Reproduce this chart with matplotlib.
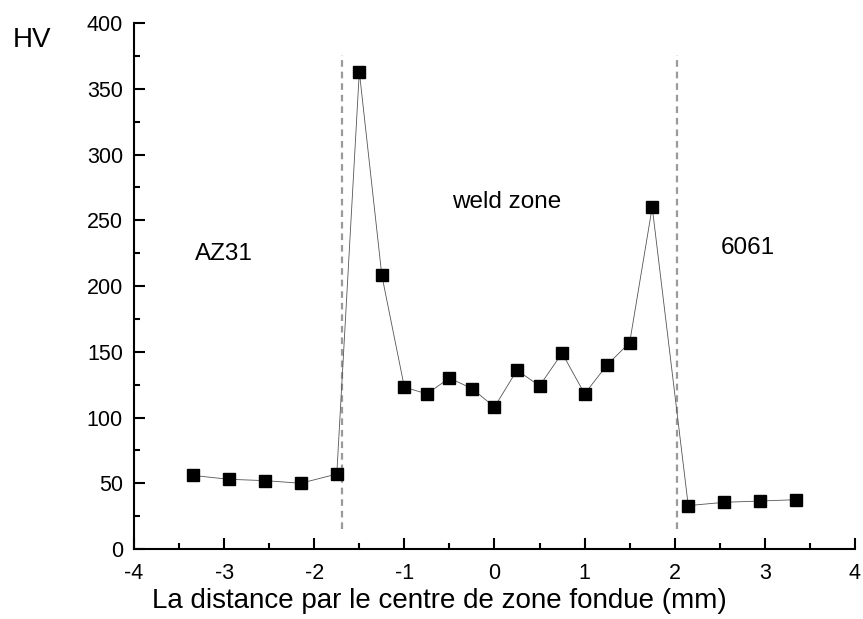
import matplotlib
matplotlib.use("Agg")
import matplotlib.pyplot as plt
from matplotlib.ticker import MultipleLocator

plt.rcParams['font.family'] = ['Liberation Sans', 'DejaVu Sans']

distance_mm = [-3.35, -2.95, -2.55, -2.15, -1.75,
               -1.5, -1.25, -1.0, -0.75, -0.5, -0.25, 0.0, 0.25, 0.5, 0.75,
               1.0, 1.25, 1.5, 1.75,
               2.15, 2.55, 2.95, 3.35]
hardness_hv = [56, 53, 52, 50, 57,
               363, 208, 123, 118, 130, 122, 108, 136, 124, 149,
               118, 140, 157, 260,
               33, 35.5, 36.5, 37.5]
boundaries_mm = [-1.69, 2.03]
boundary_span = (15, 376)
zone_labels = ["AZ31", "weld zone", "6061"]
zone_label_x = [-3.32, 0.14, 2.81]
zone_label_y = [224, 264, 229]
xticks = [-4, -3, -2, -1, 0, 1, 2, 3, 4]
yticks = [0, 50, 100, 150, 200, 250, 300, 350, 400]

fig = plt.figure(figsize=(8.63, 6.19), dpi=100)
ax = fig.add_axes([0.1553, 0.1131, 0.8354, 0.8497])

for b in boundaries_mm:
    ax.plot([b, b], boundary_span, color='#9a9a9a', linestyle=(0, (3, 2.2)), linewidth=1.6, zorder=1)

ax.plot(distance_mm, hardness_hv, color='#555555', linewidth=0.6, zorder=2)
ax.plot(distance_mm, hardness_hv, linestyle='none', marker='s', markersize=8.5,
        color='black', zorder=3)

for lab, x, y in zip(zone_labels, zone_label_x, zone_label_y):
    ha = 'left' if lab == "AZ31" else 'center'
    ax.text(x, y, lab, fontsize=17.5, ha=ha, va='center')

ax.set_xlim(-4, 4)
ax.set_ylim(0, 400)
ax.set_xticks(xticks)
ax.set_yticks(yticks)
ax.set_xticklabels([str(t) for t in xticks])
ax.set_yticklabels([str(t) for t in yticks])
ax.xaxis.set_minor_locator(MultipleLocator(0.5))
ax.yaxis.set_minor_locator(MultipleLocator(25))
ax.spines['top'].set_visible(False)
ax.spines['right'].set_visible(False)
for s in ['left', 'bottom']:
    ax.spines[s].set_linewidth(1.5)
ax.tick_params(which='major', direction='in', length=8, width=1.5, labelsize=15.5)
ax.tick_params(axis='y', which='major', pad=8)
ax.tick_params(axis='x', which='major', pad=10)
ax.tick_params(which='minor', direction='in', length=4.5, width=1.5)
ax.set_xlabel("La distance par le centre de zone fondue (mm)", fontsize=20)
ax.xaxis.set_label_coords(0.424, -0.075)
fig.text(0.037, 0.936, "HV", fontsize=20, ha='center', va='center')

fig.savefig("out.png", dpi=100)
